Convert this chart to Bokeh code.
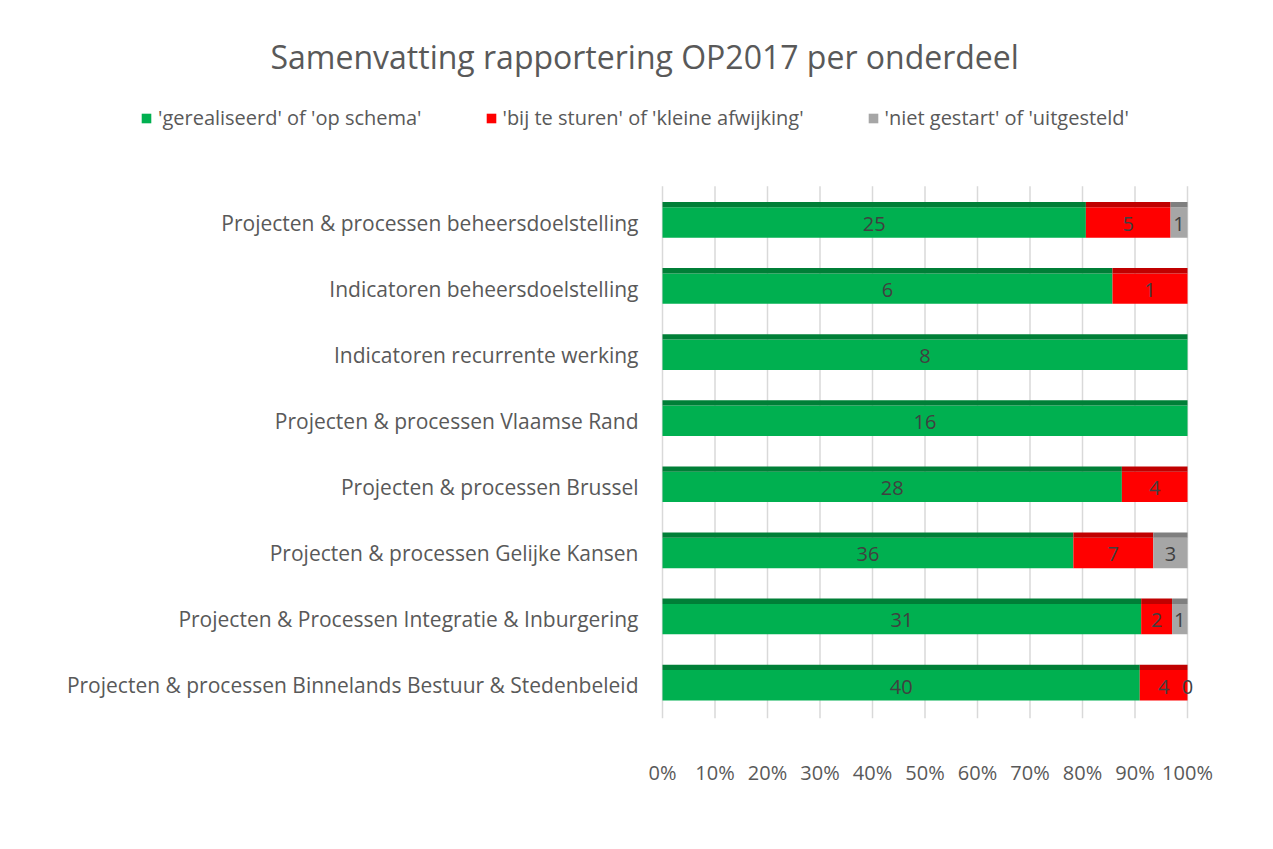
from bokeh.plotting import figure
from bokeh.models import (ColumnDataSource, Legend, LegendItem, Range1d,
                          NumeralTickFormatter, FixedTicker)
from bokeh.core.properties import value
from bokeh.embed import file_html
from bokeh.resources import INLINE

# ---------------- data ----------------
categories = [
    "Projecten & processen beheersdoelstelling",
    "Indicatoren beheersdoelstelling",
    "Indicatoren recurrente werking",
    "Projecten & processen Vlaamse Rand",
    "Projecten & processen Brussel",
    "Projecten & processen Gelijke Kansen",
    "Projecten & Processen Integratie & Inburgering",
    "Projecten & processen Binnelands Bestuur & Stedenbeleid",
]
gerealiseerd = [25, 6, 8, 16, 28, 36, 31, 40]
bij_te_sturen = [5, 1, 0, 0, 4, 7, 2, 4]
niet_gestart = [1, 0, 0, 0, 0, 3, 1, 0]
series_names = [
    "'gerealiseerd' of 'op schema'",
    "'bij te sturen' of 'kleine afwijking'",
    "'niet gestart' of 'uitgesteld'",
]
chart_title = "Samenvatting rapportering OP2017 per onderdeel"
# the reference shows a "0" label only for the last bar's grey segment
zero_label_shown = [False, False, False, False, False, False, False, True]
x_ticks = [0, 0.1, 0.2, 0.3, 0.4, 0.5, 0.6, 0.7, 0.8, 0.9, 1.0]

colors = ["#00B050", "#FF0000", "#A6A6A6"]
top_colors = ["#007F37", "#C00000", "#7F7F7F"]
FONT = "Open Sans"
TXT = "#595959"

# ---------------- layout constants (pixels) ----------------
W, H = 1273, 849
FRAME_L, FRAME_T = 20, 80          # frame left / top
X0_PX, X100_PX = 662, 1187         # where 0% and 100% sit
FRAME_R = 1205                     # frame right (a little room past 100%)
FRAME_B = 718                      # frame bottom
ROW0_PX, ROW_STEP = 222, 66.1      # centre of first row, row spacing

n = len(categories)
ypos = list(range(n - 1, -1, -1))  # first category on top
series = [gerealiseerd, bij_te_sturen, niet_gestart]
totals = [sum(v) for v in zip(*series)]

unit = X100_PX - X0_PX
x_start = -(X0_PX - FRAME_L) / unit
x_end = 1 + (FRAME_R - X100_PX) / unit
y_start = -(FRAME_B - (ROW0_PX + (n - 1) * ROW_STEP)) / ROW_STEP
y_end = (n - 1) + (ROW0_PX - FRAME_T) / ROW_STEP

p = figure(
    width=W, height=H,
    x_range=Range1d(x_start, x_end), y_range=Range1d(y_start, y_end),
    output_backend="svg", toolbar_location=None,
    min_border_left=FRAME_L, min_border_right=W - FRAME_R,
    min_border_top=FRAME_T, min_border_bottom=H - FRAME_B,
)
p.outline_line_color = None

p.title.text = chart_title
p.title.align = "left"
p.title.offset = 250
p.title.standoff = 6
p.title.text_font = FONT
p.title.text_font_size = "32px"
p.title.text_font_style = "normal"
p.title.text_color = TXT

# vertical gridlines only over the bar area
grid_top = ypos[0] + 0.55
grid_bot = y_start
p.segment(x0=x_ticks, x1=x_ticks, y0=[grid_bot] * len(x_ticks), y1=[grid_top] * len(x_ticks),
          line_color="#D9D9D9", line_width=1.5)

legend_items = []
cum = [0.0] * n
for i, vals in enumerate(series):
    left = [c / t for c, t in zip(cum, totals)]
    cum = [c + v for c, v in zip(cum, vals)]
    right = [c / t for c, t in zip(cum, totals)]
    src = ColumnDataSource(dict(y=ypos, ytop=[y + 0.27 for y in ypos],
                                left=left, right=right, v=vals))
    r = p.hbar(y="y", left="left", right="right", height=0.46, source=src,
               fill_color=colors[i], line_color=None)
    p.hbar(y="ytop", left="left", right="right", height=0.08, source=src,
           fill_color=top_colors[i], line_color=None)
    legend_items.append(LegendItem(label=series_names[i], renderers=[r]))

    # data labels
    lx, ly, lt = [], [], []
    for k in range(n):
        if vals[k] > 0 or (i == 2 and zero_label_shown[k]):
            lx.append((left[k] + right[k]) / 2)
            ly.append(ypos[k] - 0.02)
            lt.append(str(vals[k]))
    lsrc = ColumnDataSource(dict(x=lx, y=ly, t=lt))
    p.text(x="x", y="y", text="t", source=lsrc,
           text_align="center", text_baseline="middle",
           text_font=value(FONT), text_font_size="20px", text_color="#404040")

legend = Legend(items=legend_items, orientation="horizontal",
                location=(140 - FRAME_L, FRAME_B - 131), spacing=63,
                glyph_width=12, glyph_height=12, label_standoff=6,
                label_text_font=FONT, label_text_font_size="20px",
                label_text_color=TXT, border_line_color=None,
                background_fill_alpha=0, padding=0, margin=0)
p.add_layout(legend, "center")

# x axis
p.xaxis.ticker = FixedTicker(ticks=x_ticks)
p.xaxis.formatter = NumeralTickFormatter(format="0%")
p.xaxis.axis_line_color = None
p.xaxis.major_tick_line_color = None
p.xaxis.minor_tick_line_color = None
p.xaxis.major_tick_out = 0
p.xaxis.major_label_standoff = 40
p.xaxis.major_label_text_font = FONT
p.xaxis.major_label_text_font_size = "20px"
p.xaxis.major_label_text_color = TXT

# y axis: category names placed just left of the 0% line
p.yaxis.ticker = FixedTicker(ticks=ypos)
p.yaxis.major_label_overrides = {y: c for y, c in zip(ypos, categories)}
p.yaxis.axis_line_color = None
p.yaxis.major_tick_line_color = None
p.yaxis.minor_tick_line_color = None
p.yaxis.major_tick_out = 0
p.yaxis.major_tick_in = 0
p.yaxis.major_label_standoff = -(X0_PX - 24 - FRAME_L)
p.yaxis.major_label_text_font = FONT
p.yaxis.major_label_text_font_size = "21px"
p.yaxis.major_label_text_color = TXT

p.grid.visible = False

open("out.html", "w").write(file_html(p, INLINE))
